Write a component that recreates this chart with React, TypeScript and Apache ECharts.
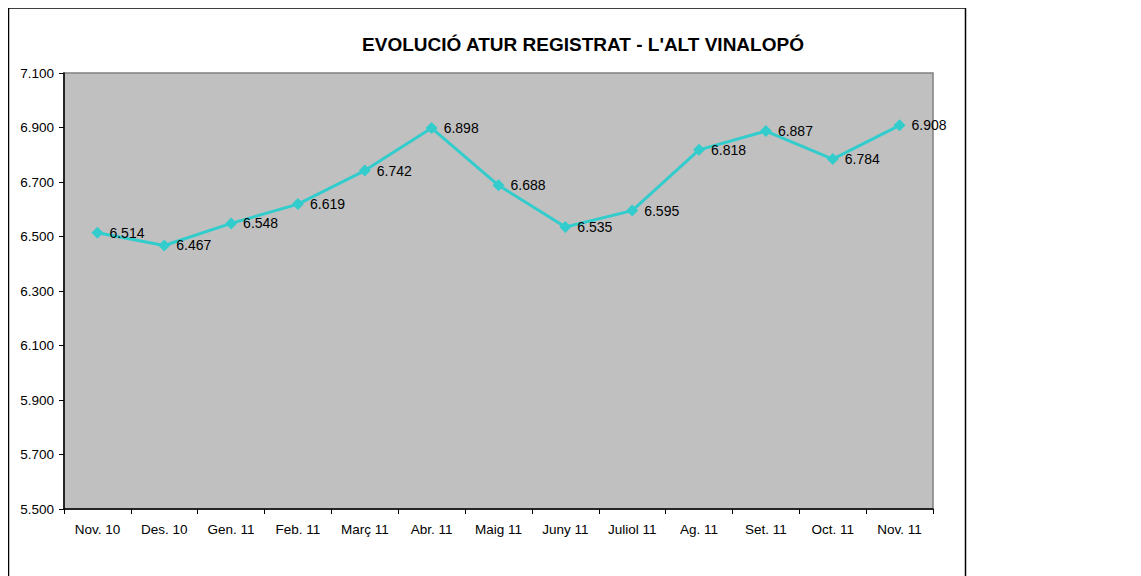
import React, { useEffect, useRef } from "react";
import * as echarts from "echarts";

const categories = ["Nov. 10", "Des. 10", "Gen. 11", "Feb. 11", "Març 11", "Abr. 11", "Maig 11", "Juny 11", "Juliol 11", "Ag. 11", "Set. 11", "Oct. 11", "Nov. 11"];
const values = [6514, 6467, 6548, 6619, 6742, 6898, 6688, 6535, 6595, 6818, 6887, 6784, 6908];
const titleText = "EVOLUCIÓ ATUR REGISTRAT - L'ALT VINALOPÓ";

const fmt = (v: number) => {
  const s = String(Math.round(v));
  return s.replace(/\B(?=(\d{3})+(?!\d))/g, ".");
};

export default function App() {
  const ref = useRef<HTMLDivElement>(null);
  useEffect(() => {
    if (!ref.current) return;
    const chart = echarts.init(ref.current, undefined, { renderer: "svg" });
    const font = "'Liberation Sans', Arial, sans-serif";
    chart.setOption({
      animation: false,
      textStyle: { fontFamily: font },
      graphic: [
        {
          type: "rect",
          shape: { x: 0.5, y: 0, width: 957, height: 620 },
          style: { fill: "none", stroke: "#000", lineWidth: 1.5 },
          silent: true,
          z: -10,
        },
        {
          type: "text",
          x: 575,
          y: 36,
          style: {
            text: titleText,
            fontFamily: font,
            fontSize: 19,
            fontWeight: "bold",
            fill: "#000",
            textAlign: "center",
            textVerticalAlign: "middle",
          },
        },
      ],
      grid: {
        left: 56,
        top: 65,
        right: 208,
        bottom: 67,
        show: true,
        backgroundColor: "#C0C0C0",
        borderColor: "#808080",
        borderWidth: 1.5,
      },
      xAxis: {
        type: "category",
        data: categories,
        boundaryGap: true,
        axisLine: { lineStyle: { color: "#000", width: 1.5 } },
        axisTick: { show: true, length: 5, lineStyle: { color: "#000" } },
        axisLabel: { color: "#000", fontSize: 13.5, fontFamily: font, margin: 13, interval: 0 },
        splitLine: { show: false },
      },
      yAxis: {
        type: "value",
        min: 5500,
        max: 7100,
        interval: 200,
        axisLine: { show: true, lineStyle: { color: "#000", width: 1.5 } },
        axisTick: { show: true, length: 5, lineStyle: { color: "#000" } },
        axisLabel: { color: "#000", fontSize: 13.5, fontFamily: font, margin: 10, formatter: (v: number) => fmt(v) },
        splitLine: { show: false },
      },
      series: [
        {
          type: "line",
          data: values,
          symbol: "diamond",
          symbolSize: 12,
          itemStyle: { color: "#33CCCC" },
          lineStyle: { color: "#33CCCC", width: 3 },
          label: {
            show: true,
            position: "right",
            distance: 6,
            color: "#000",
            fontSize: 14,
            fontFamily: font,
            formatter: (p: any) => fmt(p.value),
          },
        },
      ],
    });
    return () => chart.dispose();
  }, []);
  return <div ref={ref} style={{ width: 1133, height: 568 }} />;
}
